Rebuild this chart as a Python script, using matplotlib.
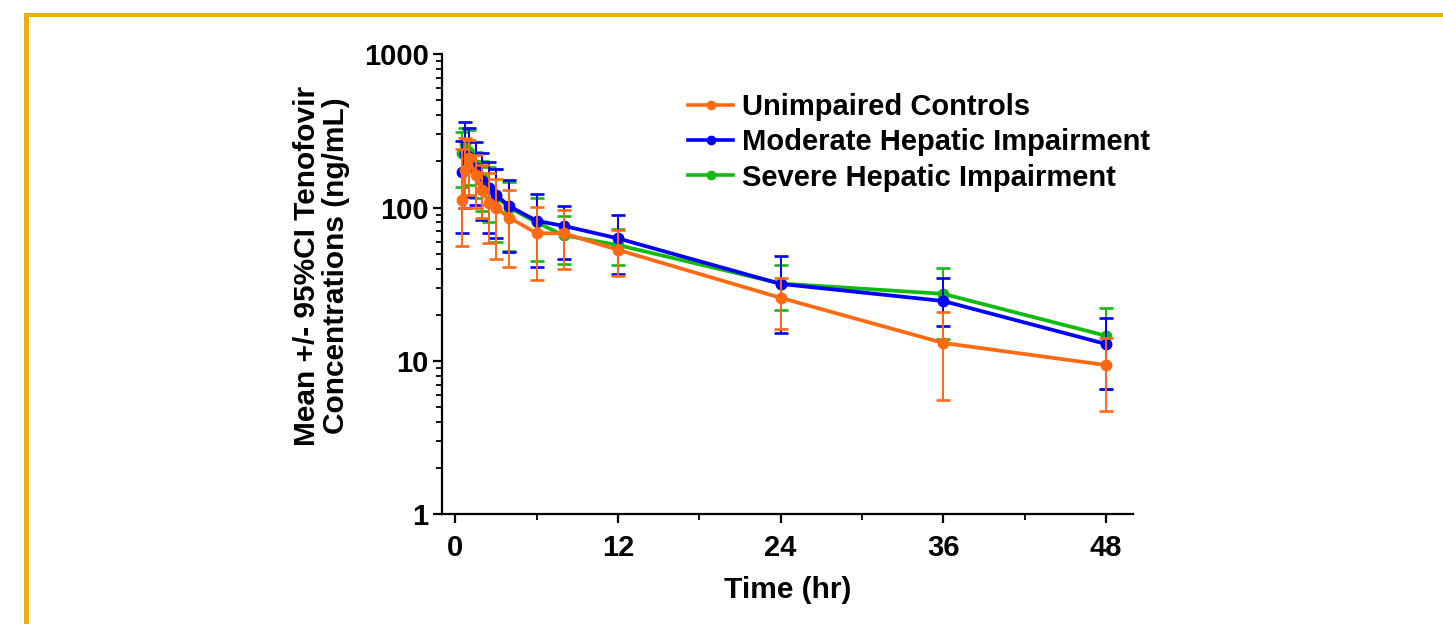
import numpy as np
import matplotlib
matplotlib.use("Agg")
import matplotlib.pyplot as plt
from matplotlib.lines import Line2D
from matplotlib.patches import Rectangle

plt.rcParams["font.family"] = ["Liberation Sans", "DejaVu Sans"]
plt.rcParams["font.weight"] = "bold"

# sampling times (hr)
times = [0.5, 0.75, 1, 1.5, 2, 2.5, 3, 4, 6, 8, 12, 24, 36, 48]

# Unimpaired controls
ctrl_mean = [112, 176, 210, 163, 130, 107, 100, 86, 68, 68, 53, 25.8, 13.1, 9.4]
ctrl_upper = [240, 285, 275, 220, 190, 168, 153, 131, 101, 96, 71.5, 34.9, 20.9, 14.1]
ctrl_lower = [56, 100, 120, 100, 85, 59, 46, 41, 33.8, 39.5, 35.8, 16.2, 5.6, 4.7]

# Moderate hepatic impairment
mod_mean = [172, 225, 215, 180, 150, 135, 121, 102, 82, 76, 63, 31.8, 24.6, 12.9]
mod_upper = [270, 364, 332, 266, 228, 197, 178, 152, 122, 103, 89, 48.4, 35, 19.1]
mod_lower = [68, 100, 117, 104, 83, 68, 63, 51, 41, 46, 37, 15.3, 17, 6.6]

# Severe hepatic impairment
sev_mean = [226, 260, 230, 190, 155, 135, 118, 100, 80, 66, 57, 32, 27.4, 14.6]
sev_upper = [313, 330, 320, 232, 200, 185, 178, 146, 116, 88, 73, 42.3, 40.4, 22.1]
sev_lower = [137, 170, 140, 115, 95, 81, 60, 52, 45, 43, 42.3, 21.4, 14, 6.6]

labels = ["Unimpaired Controls", "Moderate Hepatic Impairment", "Severe Hepatic Impairment"]
colors = ["#FF6A13", "#0000FF", "#11BB11"]

fig = plt.figure(figsize=(14.43, 6.24), dpi=100)
ax = fig.add_axes([0.3061, 0.1758, 0.4791, 0.7372])

series = [
    (sev_mean, sev_lower, sev_upper, colors[2], 2),
    (mod_mean, mod_lower, mod_upper, colors[1], 3),
    (ctrl_mean, ctrl_lower, ctrl_upper, colors[0], 4),
]
t = np.array(times)
for mean, lo, hi, c, z in series:
    mean = np.array(mean)
    err = np.vstack([mean - np.array(lo), np.array(hi) - mean])
    ax.errorbar(t, mean, yerr=err, color=c, lw=2.7, marker="o", ms=7.5,
                elinewidth=1.4, capsize=4.7, capthick=1.9, zorder=z)

ax.set_yscale("log")
ax.set_ylim(1, 1000)
ax.set_xlim(-1, 50)
ax.set_xticks([0, 12, 24, 36, 48])
ax.set_xticks([6, 18, 30, 42], minor=True)
ax.set_yticks([1, 10, 100, 1000])
ax.set_yticklabels(["1", "10", "100", "1000"])

for side in ["top", "right"]:
    ax.spines[side].set_visible(False)
for side in ["left", "bottom"]:
    ax.spines[side].set_linewidth(1.6)

ax.tick_params(axis="both", which="major", direction="out", length=6.5, width=1.6,
               labelsize=21)
ax.tick_params(axis="y", which="major", pad=3)
ax.tick_params(axis="x", which="major", pad=8)
ax.tick_params(axis="both", which="minor", direction="out", length=4, width=1.3)
ax.tick_params(axis="y", which="minor", labelleft=False)
for lab in ax.get_xticklabels() + ax.get_yticklabels():
    lab.set_fontweight("bold")

ax.set_xlabel("Time (hr)", fontsize=21.5, fontweight="bold", va="center")
ax.xaxis.set_label_coords(0.5, -0.1646)
fig.text(0.2231, 1 - 266 / 624, "Mean +/- 95%CI Tenofovir\nConcentrations (ng/mL)",
         rotation=90, ha="center", va="center", fontsize=21.5, fontweight="bold",
         linespacing=1.05)

handles = [Line2D([0], [0], color=c, lw=2.6, marker="o", ms=6) for c in colors]
ax.legend(handles, labels, loc="upper left", bbox_to_anchor=(0.3563, 0.9158),
          frameon=False, prop={"size": 21, "weight": "bold"}, borderpad=0,
          borderaxespad=0, handlelength=1.55, handletextpad=0.31, labelspacing=0.25)

# gold frame edges
gold = "#EBAE13"
fig.add_artist(Rectangle((24 / 1443, 0), 5 / 1443, 1 - 12.5 / 624,
                         transform=fig.transFigure, color=gold, lw=0))
fig.add_artist(Rectangle((24 / 1443, 1 - 17 / 624), 1 - 24 / 1443, 4.5 / 624,
                         transform=fig.transFigure, color=gold, lw=0))

fig.savefig("out.png", dpi=100)
